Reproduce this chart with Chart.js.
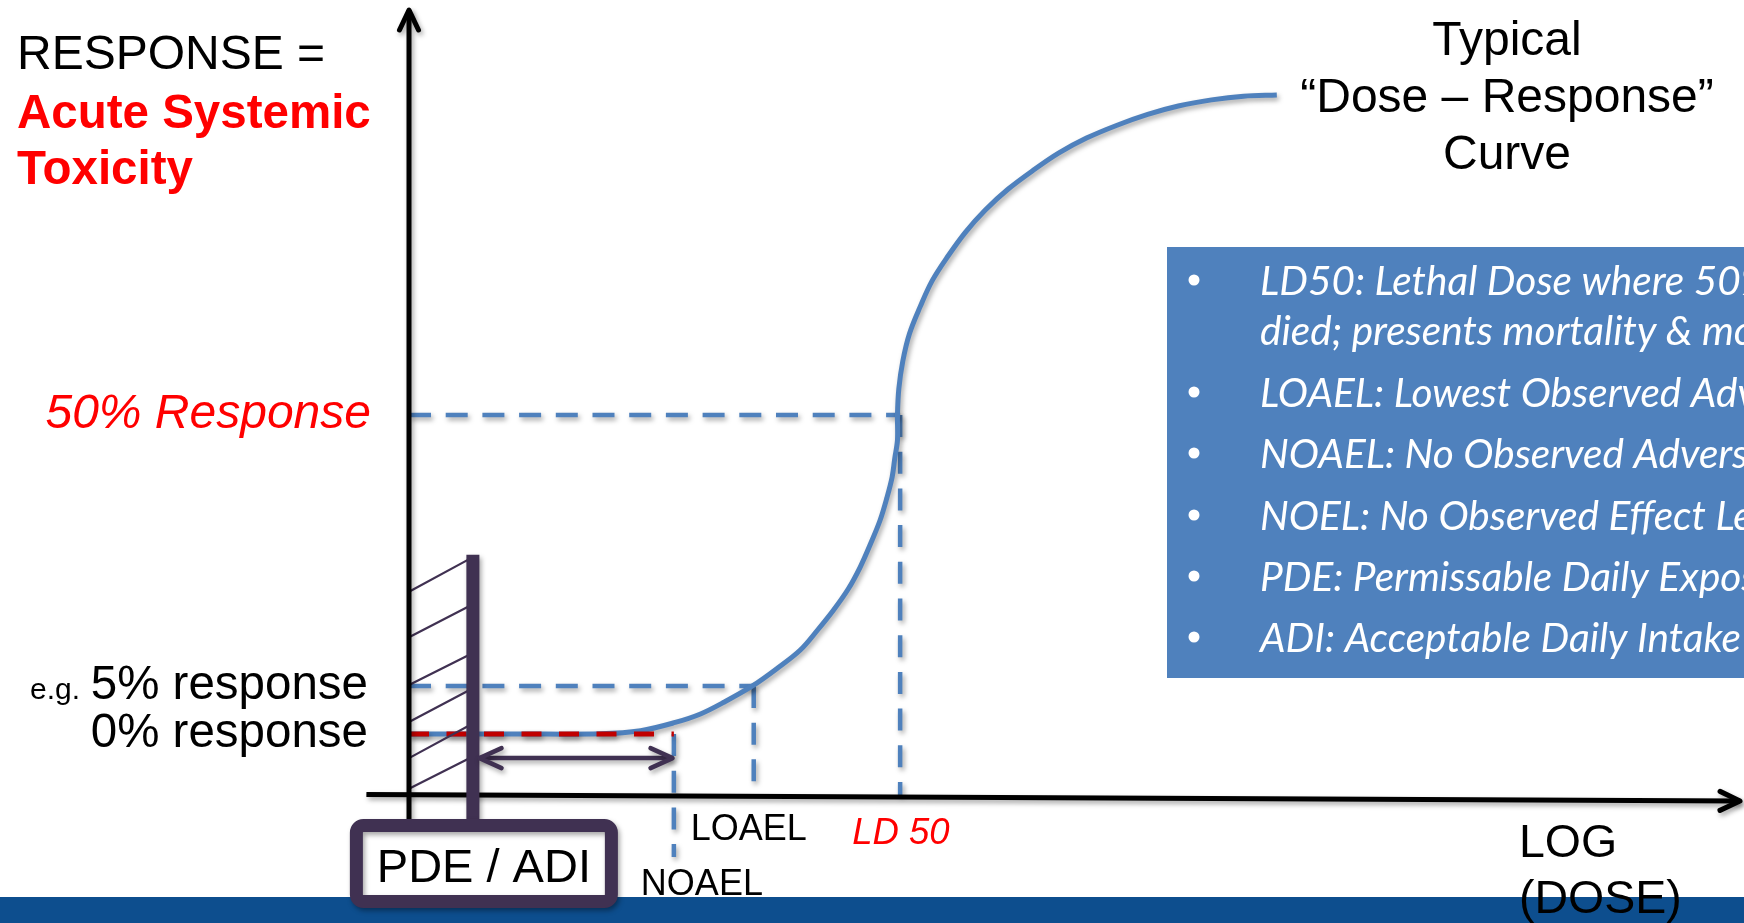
<!DOCTYPE html>
<html>
<head>
<meta charset="utf-8">
<script src="https://cdn.jsdelivr.net/npm/chart.js@4.4.1/dist/chart.umd.min.js"></script>
<style>
  html, body { margin: 0; padding: 0; background: #ffffff; overflow: hidden; }
  canvas { display: block; }
</style>
</head>
<body>
<canvas id="doseChart" width="1744" height="923"></canvas>
<script>
// Dose axis: log(dose) in arbitrary units, 0 at the response axis.
// Response axis: arbitrary response units, 0 at the dose axis.
const curveDose = [0, 0.83, 1.44, 1.74, 2.00, 2.19, 2.37, 2.58, 2.77, 2.94, 3.07, 3.19, 3.30, 3.39, 3.47, 3.54, 3.59, 3.63, 3.65, 3.67, 3.67,
  3.68, 3.71, 3.76, 3.84, 3.93, 4.05, 4.18, 4.33, 4.50, 4.69, 4.88, 5.09, 5.32, 5.55, 5.78, 6.03, 6.27, 6.52];
const curveResponse = [7.77, 7.77, 7.80, 8.19, 9.24, 10.32, 11.85, 13.89, 16.18, 18.47, 21.02, 23.57, 26.24, 29.04, 32.10, 35.03, 37.83, 40.51, 42.93, 45.22, 48.41,
  51.73, 55.27, 58.76, 62.18, 65.49, 68.66, 71.68, 74.52, 77.16, 79.58, 81.76, 83.68, 85.32, 86.70, 87.77, 88.55, 89.02, 89.17];

// Threshold doses marked on the dose axis
const thresholdNames = ['PDE / ADI', 'NOAEL', 'LOAEL', 'LD 50'];
const thresholdDose = [0.48, 1.99, 2.59, 3.69];

// Response levels marked on the response axis
const responseNames = ['0% response', '5% response', '50% Response'];
const responseLevel = [7.77, 13.89, 48.41];

// Safety-margin hatching between the response axis and the PDE / ADI bar
const hatchLow = [25.9, 20.1, 14.0, 9.3, 4.7, 0.8];
const hatchHigh = [30.3, 24.3, 18.1, 13.6, 9.1, 4.9];
const pdeBarRange = [30.6, -3.2];
const marginArrowLevel = 4.7;

// Axis extents (the dose axis is drawn with a slight downward slant)
const doseAxisDose = [-0.32, 10];
const doseAxisResponse = [0.06, -0.76];
const responseAxisRange = [-3.2, 100];

// Glossary panel
const glossaryLines = [
  'LD50: Lethal Dose where 50% of the test animals',
  'died; presents mortality & morbidity',
  'LOAEL: Lowest Observed Adverse Effect Level',
  'NOAEL: No Observed Adverse Effect Level',
  'NOEL: No Observed Effect Level',
  'PDE: Permissable Daily Exposure',
  'ADI: Acceptable Daily Intake'
];
const glossaryBullet = [true, false, true, true, true, true, true];

const BLUE = '#4F81BD';
const PURPLE = '#403152';
const RED = '#FF0000';
const DARK_RED = '#C00000';
const SANS = '"Liberation Sans", Arial, sans-serif';

const [iPDE, iNOAEL, iLOAEL, iLD50] = [0, 1, 2, 3];
const [r0, r5, r50] = [0, 1, 2];

function seg(x1, y1, x2, y2) { return [{ x: x1, y: y1 }, { x: x2, y: y2 }]; }

function lineSet(data, color, width, dash, shadow) {
  return {
    data, showLine: true, borderColor: color, backgroundColor: color,
    borderWidth: width, borderDash: dash || [], pointRadius: 0, pointHoverRadius: 0,
    tension: 0, clip: false, shadow: shadow !== false, borderCapStyle: 'butt'
  };
}

// hatch segments separated by gaps
const hatchData = [];
hatchLow.forEach((lo, i) => {
  hatchData.push({ x: 0, y: lo }, { x: thresholdDose[iPDE], y: hatchHigh[i] }, { x: null, y: null });
});

const curveData = curveDose.map((x, i) => ({ x, y: curveResponse[i] }));
const DASH = [22, 14.7];

const datasets = [
  lineSet(seg(thresholdDose[iPDE], pdeBarRange[0], thresholdDose[iPDE], pdeBarRange[1]), PURPLE, 13),
  lineSet(seg(0, responseAxisRange[0], 0, responseAxisRange[1]), '#000000', 5),
  lineSet(seg(doseAxisDose[0], doseAxisResponse[0], doseAxisDose[1], doseAxisResponse[1]), '#000000', 5),
  Object.assign(lineSet(hatchData, PURPLE, 2.2, null, false), { spanGaps: false }),
  lineSet(seg(0, responseLevel[r0], thresholdDose[iNOAEL], responseLevel[r0]), DARK_RED, 5, [20, 17.5]),
  Object.assign(lineSet(curveData, BLUE, 5), { tension: 0.35 }),
  lineSet(seg(0, responseLevel[r50], thresholdDose[iLD50], responseLevel[r50]), BLUE, 4.5, DASH),
  lineSet(seg(thresholdDose[iLD50], responseLevel[r50], thresholdDose[iLD50], 0), BLUE, 4.5, DASH),
  lineSet(seg(0, responseLevel[r5], thresholdDose[iLOAEL], responseLevel[r5]), BLUE, 4.5, DASH),
  lineSet(seg(thresholdDose[iLOAEL], responseLevel[r5], thresholdDose[iLOAEL], 0), BLUE, 4.5, DASH),
  lineSet(seg(thresholdDose[iNOAEL], responseLevel[r0], thresholdDose[iNOAEL], -7.9), BLUE, 4.5, DASH),
  lineSet(seg(thresholdDose[iPDE] + 0.05, marginArrowLevel, thresholdDose[iNOAEL] - 0.01, marginArrowLevel), PURPLE, 4.5)
];

function setShadow(ctx) {
  ctx.shadowColor = 'rgba(0,0,0,0.35)';
  ctx.shadowBlur = 5;
  ctx.shadowOffsetX = 2;
  ctx.shadowOffsetY = 3;
}

const shadowPlugin = {
  id: 'lineShadow',
  beforeDatasetDraw(chart, args) {
    const ds = chart.data.datasets[args.index];
    chart.ctx.save();
    if (ds.shadow) setShadow(chart.ctx);
  },
  afterDatasetDraw(chart) {
    chart.ctx.restore();
  }
};

function chevron(ctx, tx, ty, dir, len, half, color, width) {
  // dir: unit vector pointing toward the tip
  const [dx, dy] = dir;
  const bx = tx - dx * len, by = ty - dy * len;
  const nx = -dy, ny = dx;
  ctx.beginPath();
  ctx.moveTo(bx + nx * half, by + ny * half);
  ctx.lineTo(tx, ty);
  ctx.lineTo(bx - nx * half, by - ny * half);
  ctx.strokeStyle = color;
  ctx.lineWidth = width;
  ctx.lineJoin = 'round';
  ctx.lineCap = 'round';
  ctx.stroke();
}

function text(ctx, str, x, y, font, color, align) {
  ctx.font = font;
  ctx.fillStyle = color;
  ctx.textAlign = align || 'left';
  ctx.textBaseline = 'alphabetic';
  ctx.fillText(str, x, y);
}

const decorations = {
  id: 'decorations',
  beforeDraw(chart) {
    const { ctx, width, height } = chart;
    ctx.save();
    ctx.fillStyle = '#ffffff';
    ctx.fillRect(0, 0, width, height);
    // footer band
    ctx.fillStyle = '#0D4E8E';
    ctx.fillRect(0, 897, width, height - 897);
    // glossary panel
    ctx.fillStyle = BLUE;
    ctx.fillRect(1167, 247, width - 1167, 431);
    ctx.font = 'italic 100px Lato, "Open Sans", sans-serif';
    const fit = 100 * 481 / ctx.measureText(glossaryLines[6]).width;
    const baselines = [295, 345, 407, 468, 530, 591, 652];
    glossaryLines.forEach((line, i) => {
      if (glossaryBullet[i]) {
        ctx.beginPath();
        ctx.arc(1194, baselines[i] - 15, 5.5, 0, Math.PI * 2);
        ctx.fillStyle = '#ffffff';
        ctx.fill();
      }
      text(ctx, line, 1260, baselines[i], 'italic ' + fit.toFixed(2) + 'px Lato, "Open Sans", sans-serif', '#ffffff');
    });
    ctx.restore();
  },
  afterDatasetsDraw(chart) {
    const { ctx } = chart;
    const xs = chart.scales.x, ys = chart.scales.y;
    const px = v => xs.getPixelForValue(v);
    const py = v => ys.getPixelForValue(v);

    ctx.save();
    setShadow(ctx);
    // axis arrowheads
    chevron(ctx, px(0), py(responseAxisRange[1]), [0, -1], 20, 9.5, '#000000', 5);
    const ax0 = px(doseAxisDose[0]), ay0 = py(doseAxisResponse[0]);
    const ax1 = px(doseAxisDose[1]), ay1 = py(doseAxisResponse[1]);
    const al = Math.hypot(ax1 - ax0, ay1 - ay0);
    chevron(ctx, ax1, ay1, [(ax1 - ax0) / al, (ay1 - ay0) / al], 20, 9.5, '#000000', 5);
    // margin double arrow
    chevron(ctx, px(thresholdDose[iPDE] + 0.05), py(marginArrowLevel), [-1, 0], 22, 10, PURPLE, 4.5);
    chevron(ctx, px(thresholdDose[iNOAEL] - 0.01), py(marginArrowLevel), [1, 0], 22, 10, PURPLE, 4.5);

    // PDE / ADI box
    const cx = px(thresholdDose[iPDE]) + 11;
    const bx = cx - 127.5, by = 825.5, bw = 255, bh = 76;
    ctx.beginPath();
    ctx.roundRect(bx, by, bw, bh, 7);
    ctx.fillStyle = '#ffffff';
    ctx.fill();
    ctx.lineWidth = 13;
    ctx.strokeStyle = PURPLE;
    ctx.lineJoin = 'round';
    ctx.stroke();
    ctx.restore();

    ctx.save();
    text(ctx, thresholdNames[iPDE], cx, 882, '47px ' + SANS, '#000000', 'center');

    // response axis title
    text(ctx, 'RESPONSE =', 17, 69, '48px ' + SANS, '#000000');
    text(ctx, 'Acute Systemic', 17, 128, 'bold 47.5px ' + SANS, RED);
    text(ctx, 'Toxicity', 17, 184, 'bold 47.5px ' + SANS, RED);

    // response levels
    text(ctx, responseNames[r50], 371, py(responseLevel[r50]) + 13, 'italic 48px ' + SANS, RED, 'right');
    text(ctx, responseNames[r5], 368, py(responseLevel[r5]) + 13, '47.5px ' + SANS, '#000000', 'right');
    text(ctx, responseNames[r0], 368, py(responseLevel[r0]) + 13, '47.5px ' + SANS, '#000000', 'right');
    text(ctx, 'e.g.', 80, py(responseLevel[r5]) + 13, '30px ' + SANS, '#000000', 'right');

    // curve title
    text(ctx, 'Typical', 1507, 55, '48px ' + SANS, '#000000', 'center');
    text(ctx, '\u201CDose \u2013 Response\u201D', 1507, 112, '48px ' + SANS, '#000000', 'center');
    text(ctx, 'Curve', 1507, 169, '48px ' + SANS, '#000000', 'center');

    // threshold labels on the dose axis
    text(ctx, thresholdNames[iLOAEL], px(thresholdDose[iLOAEL]) - 63, 840, '36px ' + SANS, '#000000');
    text(ctx, thresholdNames[iNOAEL], px(thresholdDose[iNOAEL]) - 33, 895, '36px ' + SANS, '#000000');
    text(ctx, thresholdNames[iLD50], px(thresholdDose[iLD50]) - 48, 844, 'italic 36.5px ' + SANS, RED);

    // dose axis title
    text(ctx, 'LOG', 1519, 857, '46.5px ' + SANS, '#000000');
    text(ctx, '(DOSE)', 1519, 913, '46.5px ' + SANS, '#000000');
    ctx.restore();
  }
};

new Chart(document.getElementById('doseChart'), {
  type: 'scatter',
  data: { datasets },
  options: {
    responsive: false,
    devicePixelRatio: 1,
    animation: false,
    events: [],
    layout: { padding: { left: 409, right: 4, top: 10, bottom: 128 } },
    scales: {
      x: { type: 'linear', min: 0, max: 10, display: false },
      y: { type: 'linear', min: 0, max: 100, display: false }
    },
    plugins: { legend: { display: false }, tooltip: { enabled: false } }
  },
  plugins: [shadowPlugin, decorations]
});
</script>
</body>
</html>
